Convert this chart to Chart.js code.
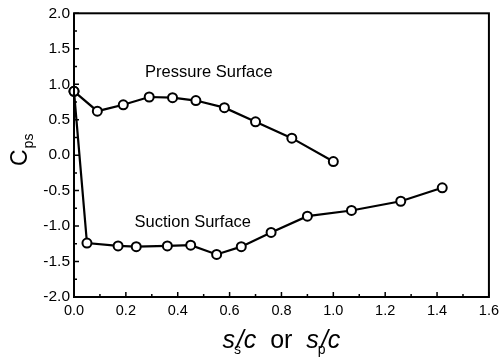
<!DOCTYPE html>
<html>
<head>
<meta charset="utf-8">
<script src="https://cdn.jsdelivr.net/npm/chart.js@4/dist/chart.umd.min.js"></script>
<style>
  body { margin: 0; background: #fff; }
  canvas { display: block; }
</style>
</head>
<body>
<canvas id="cpChart" width="504" height="361"></canvas>
<script>
// Valeurs
const pressureX = [0.0, 0.09, 0.19, 0.29, 0.38, 0.47, 0.58, 0.70, 0.84, 1.0];
const pressureY = [0.90, 0.62, 0.71, 0.82, 0.81, 0.77, 0.67, 0.47, 0.24, -0.09];

const suctionX = [0.0, 0.05, 0.17, 0.24, 0.36, 0.45, 0.55, 0.645, 0.76, 0.90, 1.07, 1.26, 1.42];
const suctionY = [0.90, -1.24, -1.28, -1.29, -1.28, -1.27, -1.40, -1.29, -1.09, -0.86, -0.78, -0.65, -0.46];

const xTicks = [0, 0.2, 0.4, 0.6, 0.8, 1.0, 1.2, 1.4, 1.6];
const yTicks = [-2.0, -1.5, -1.0, -0.5, 0.0, 0.5, 1.0, 1.5, 2.0];

const FONT = "'Liberation Sans', Arial, sans-serif";

function toPoints(xs, ys) {
  return xs.map((x, i) => ({ x: x, y: ys[i] }));
}

function lineDataset(label, xs, ys) {
  return {
    label: label,
    data: toPoints(xs, ys),
    borderColor: "#000",
    borderWidth: 2.2,
    backgroundColor: "#fff",
    pointRadius: 4.5,
    pointBorderWidth: 2,
    pointBackgroundColor: "#fff",
    pointBorderColor: "#000",
    tension: 0,
    clip: false,
  };
}

// cadre + graduations vers l'intérieur + textes
const decorPlugin = {
  id: "decor",
  afterDraw(chart) {
    const ctx = chart.ctx;
    const area = chart.chartArea;
    const xs = chart.scales.x;
    const ys = chart.scales.y;
    ctx.save();
    ctx.strokeStyle = "#000";
    ctx.lineWidth = 2;
    ctx.strokeRect(area.left, area.top, area.right - area.left, area.bottom - area.top);

    ctx.lineWidth = 1.5;
    ctx.beginPath();
    for (let i = 0; i <= 16; i++) {
      const v = i * 0.25 - 2;
      const py = ys.getPixelForValue(v);
      const len = i % 2 === 0 ? 5 : 3;
      ctx.moveTo(area.left, py);
      ctx.lineTo(area.left + len, py);
    }
    for (let i = 0; i <= 16; i++) {
      const v = i * 0.1;
      const px = xs.getPixelForValue(v);
      const len = i % 2 === 0 ? 5 : 3;
      ctx.moveTo(px, area.bottom);
      ctx.lineTo(px, area.bottom - len);
    }
    ctx.stroke();

    // étiquettes des courbes
    ctx.fillStyle = "#000";
    ctx.font = "16.5px " + FONT;
    ctx.textAlign = "center";
    ctx.textBaseline = "middle";
    ctx.fillText("Pressure Surface", xs.getPixelForValue(0.52), ys.getPixelForValue(1.17));
    ctx.fillText("Suction Surface", xs.getPixelForValue(0.458), ys.getPixelForValue(-0.95));

    // titre axe Y : C_ps
    ctx.save();
    ctx.translate(27, 166);
    ctx.rotate(-Math.PI / 2);
    ctx.textAlign = "left";
    ctx.textBaseline = "alphabetic";
    ctx.font = "23px " + FONT;
    ctx.fillText("C", 0, 0);
    const cw = ctx.measureText("C").width;
    ctx.font = "14px " + FONT;
    ctx.fillText("ps", cw + 1, 6);
    ctx.restore();

    // titre axe X : s_s/c or s_p/c
    const big = "italic 25px " + FONT;
    const small = "14px " + FONT;
    const parts = [
      { t: "s", f: big, dy: 0, dx: 0 },
      { t: "s", f: small, dy: 6, dx: -1, adv: 0.4 },
      { t: "/c", f: big, dy: 0, dx: 0 },
      { t: "  or  ", f: "25px " + FONT, dy: 0, dx: 0 },
      { t: "s", f: big, dy: 0, dx: 0 },
      { t: "p", f: small, dy: 6, dx: -1, adv: 0.4 },
      { t: "/c", f: big, dy: 0, dx: 0 },
    ];
    let total = 0;
    for (const p of parts) {
      ctx.font = p.f;
      const w = ctx.measureText(p.t).width;
      p.w = w;
      total += p.dx + (p.adv !== undefined ? w * p.adv : w);
    }
    let cx = (area.left + area.right) / 2 - total / 2;
    const base = 348;
    ctx.textAlign = "left";
    ctx.textBaseline = "alphabetic";
    for (const p of parts) {
      ctx.font = p.f;
      cx += p.dx;
      ctx.fillText(p.t, cx, base + p.dy);
      cx += p.adv !== undefined ? p.w * p.adv : p.w;
    }
    ctx.restore();
  },
};

new Chart(document.getElementById("cpChart"), {
  type: "line",
  data: {
    datasets: [
      lineDataset("Pressure Surface", pressureX, pressureY),
      lineDataset("Suction Surface", suctionX, suctionY),
    ],
  },
  options: {
    responsive: false,
    animation: false,
    layout: { padding: { top: 12, right: 11, left: 0, bottom: 0 } },
    plugins: { legend: { display: false }, tooltip: { enabled: false } },
    scales: {
      x: {
        type: "linear",
        min: 0,
        max: 1.6,
        afterFit: (scale) => { scale.height = 64; },
        afterBuildTicks: (scale) => { scale.ticks = xTicks.map((v) => ({ value: v })); },
        grid: { display: false, drawTicks: false },
        border: { display: false },
        ticks: {
          padding: 5,
          color: "#000",
          font: { family: FONT, size: 14.5 },
          callback: (v) => v.toFixed(1),
        },
      },
      y: {
        type: "linear",
        min: -2,
        max: 2,
        afterFit: (scale) => { scale.width = 74; },
        afterBuildTicks: (scale) => { scale.ticks = yTicks.map((v) => ({ value: v })); },
        grid: { display: false, drawTicks: false },
        border: { display: false },
        ticks: {
          padding: 4,
          color: "#000",
          font: { family: FONT, size: 15.5 },
          callback: (v) => v.toFixed(1),
        },
      },
    },
  },
  plugins: [decorPlugin],
});
</script>
</body>
</html>
